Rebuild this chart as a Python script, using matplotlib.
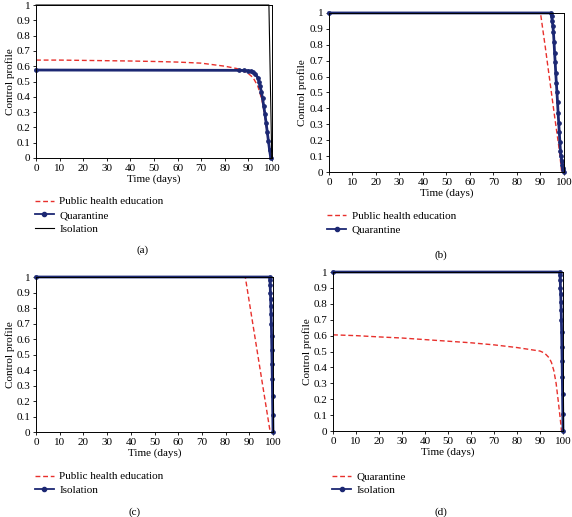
import matplotlib
matplotlib.use("Agg")
import matplotlib.pyplot as plt

plt.rcParams["font.family"] = ["Liberation Serif", "DejaVu Serif"]

# ---- data ----
# (a)
t_phe_a = [0, 10, 20, 30, 40, 50, 60, 70, 80, 85, 88, 90, 92, 94, 95, 96, 97, 98, 99, 99.4]
phe_a = [0.64, 0.64, 0.638, 0.636, 0.634, 0.631, 0.627, 0.62, 0.6, 0.585, 0.568, 0.552,
         0.525, 0.47, 0.42, 0.36, 0.27, 0.16, 0.05, 0.0]
t_quar_a = [0, 86, 88, 90, 91, 92, 93, 94, 94.5, 95, 95.5,
            96, 96.5, 97, 97.5, 98, 98.5, 99, 99.5]
quar_a = [0.575, 0.573, 0.572,
          0.57, 0.566, 0.56, 0.548, 0.525, 0.5, 0.47, 0.43, 0.39, 0.34, 0.29, 0.23, 0.17,
          0.11, 0.05, 0.0]
t_iso_a = [0, 98.7, 99.9]
iso_a = [1, 1, 0]

# (b)
t_phe_b = [0, 90, 92, 94, 96, 98, 99]
phe_b = [1, 1, 0.79, 0.57, 0.35, 0.14, 0]
t_quar_b = [0, 94.4, 94.7, 95, 95.25, 95.5, 95.75, 96, 96.25, 96.5, 96.75,
            97, 97.25, 97.5, 97.75, 98, 98.25, 98.5, 98.75, 99, 99.25, 99.5, 99.75, 100]
quar_b = [1, 1, 0.98, 0.95, 0.92, 0.88, 0.82, 0.75, 0.69, 0.62, 0.56, 0.5,
          0.44, 0.37, 0.31, 0.25, 0.19, 0.13, 0.1, 0.07, 0.045, 0.025, 0.01, 0]

# (c)
t_phe_c = [0, 88.3, 98.8]
phe_c = [1, 1, 0]
t_iso_c = [0, 98.6, 98.7, 98.8, 98.9, 99.0, 99.1, 99.2, 99.3, 99.4, 99.5,
           99.6, 99.7, 99.8, 99.9, 100]
iso_c = [1, 1, 0.98, 0.95, 0.9, 0.86, 0.81, 0.76, 0.7, 0.62, 0.53, 0.44, 0.34,
         0.23, 0.11, 0]

# (d)
t_quar_d = [0, 10, 20, 30, 40, 50, 60, 70, 80, 90, 92, 94, 95, 96, 97, 98, 99, 99.3]
quar_d = [0.605, 0.6, 0.592, 0.585, 0.575, 0.565, 0.555, 0.542, 0.525, 0.503, 0.49, 0.46,
          0.43, 0.38, 0.3, 0.18, 0.05, 0]
t_iso_d = t_iso_c
iso_d = iso_c

xticks = [0, 10, 20, 30, 40, 50, 60, 70, 80, 90, 100]
yticks = [0, 0.1, 0.2, 0.3, 0.4, 0.5, 0.6, 0.7, 0.8, 0.9, 1]
ytick_labels = ["0", "0.1", "0.2", "0.3", "0.4", "0.5", "0.6", "0.7", "0.8", "0.9", "1"]

RED = "#e8302c"
NAVY = "#1c2873"
FS = 8

fig = plt.figure(figsize=(5.72, 5.17), dpi=100)


def setup(ax):
    ax.set_xlim(0, 100)
    ax.set_ylim(0, 1)
    ax.set_xticks(xticks)
    ax.set_yticks(yticks)
    ax.set_yticklabels(ytick_labels)
    ax.tick_params(direction="out", length=2.5, width=0.6, labelsize=FS, pad=1.5)
    for s in ax.spines.values():
        s.set_linewidth(0.7)
    ax.set_xlabel("Time (days)", fontsize=FS, labelpad=1)
    ax.set_ylabel("Control profile", fontsize=FS, labelpad=1.5)


def red(ax, t, y, label):
    ax.plot(t, y, color=RED, ls=(0, (3.5, 2)), lw=1.0, label=label, clip_on=False)


def navy(ax, t, y, label):
    ax.plot(t, y, color=NAVY, lw=2.0, marker="o", ms=2.4, label=label, clip_on=False)


def legend(ax, x, y):
    leg = fig.legend(handles=ax.get_lines(), loc="upper left", bbox_to_anchor=(x, y),
                     frameon=False, fontsize=FS, handlelength=1.7, labelspacing=0.35,
                     handletextpad=0.5, borderpad=0.2, borderaxespad=0)
    for h in leg.legend_handles:
        if h.get_color() == NAVY:
            h.set_linewidth(1.3)
            h.set_markersize(3)


# (a)
ax_a = fig.add_axes([0.063, 0.6944, 0.4125, 0.2959])
red(ax_a, t_phe_a, phe_a, "Public health education")
navy(ax_a, t_quar_a, quar_a, "Quarantine")
ax_a.plot(t_iso_a, iso_a, color="black", lw=0.8, label="Isolation", clip_on=False)
setup(ax_a)
legend(ax_a, 0.057, 0.624)
fig.text(0.25, 0.516, "(a)", fontsize=FS, ha="center", va="center")

# (b)
ax_b = fig.add_axes([0.575, 0.6673, 0.411, 0.3076])
red(ax_b, t_phe_b, phe_b, "Public health education")
navy(ax_b, t_quar_b, quar_b, "Quarantine")
setup(ax_b)
legend(ax_b, 0.568, 0.596)
fig.text(0.77, 0.507, "(b)", fontsize=FS, ha="center", va="center")

# (c)
ax_c = fig.add_axes([0.063, 0.1644, 0.4143, 0.2998])
red(ax_c, t_phe_c, phe_c, "Public health education")
navy(ax_c, t_iso_c, iso_c, "Isolation")
setup(ax_c)
legend(ax_c, 0.057, 0.092)
fig.text(0.236, 0.009, "(c)", fontsize=FS, ha="center", va="center")

# (d)
ax_d = fig.add_axes([0.5822, 0.1663, 0.4021, 0.3075])
red(ax_d, t_quar_d, quar_d, "Quarantine")
navy(ax_d, t_iso_d, iso_d, "Isolation")
setup(ax_d)
legend(ax_d, 0.577, 0.092)
fig.text(0.77, 0.009, "(d)", fontsize=FS, ha="center", va="center")

fig.savefig("out.png", dpi=100)
